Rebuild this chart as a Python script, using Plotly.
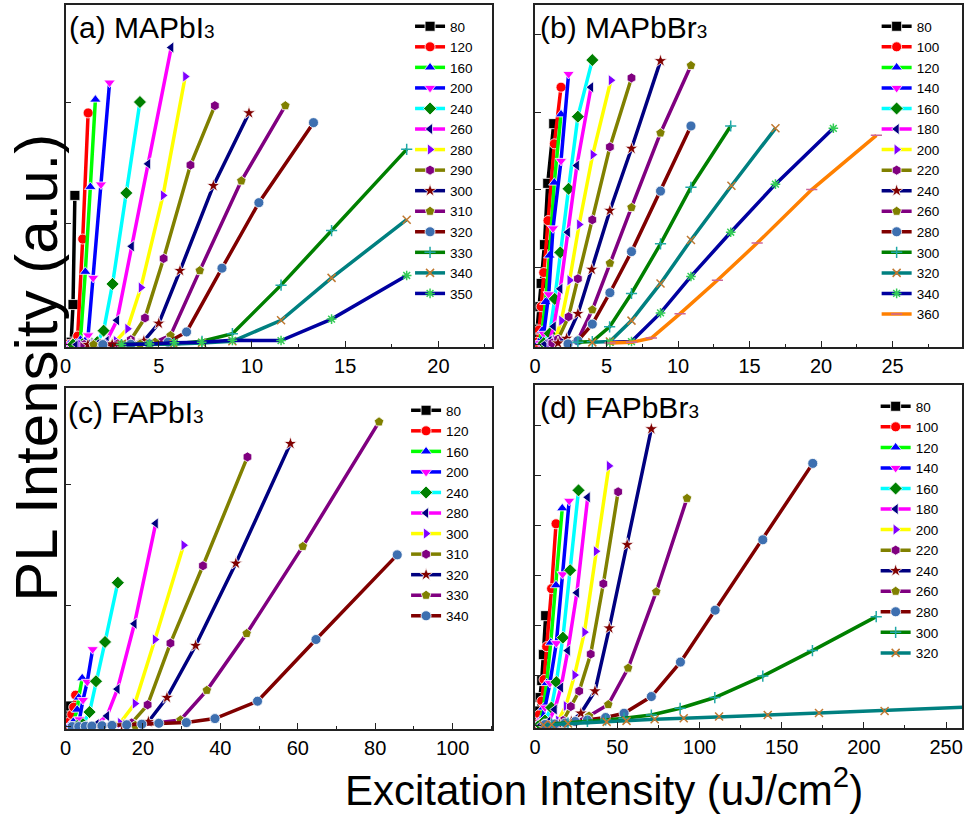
import plotly.graph_objects as go

# ---------------- data ----------------
A_LABELS = [80, 120, 160, 200, 240, 260, 280, 290, 300, 310, 320, 330, 340, 350]
A_X = [
    [0.05, 0.15, 0.3, 0.4, 0.5],
    [0.1, 0.3, 0.5, 0.65, 0.92, 1.21],
    [0.15, 0.35, 0.55, 0.8, 1.06, 1.33, 1.6],
    [0.2, 0.5, 0.9, 1.21, 1.48, 1.9, 2.36],
    [0.4, 0.9, 1.4, 1.7, 2.04, 2.52, 3.26, 3.99],
    [0.6, 1.2, 1.7, 2.2, 2.76, 3.55, 4.43, 5.67],
    [0.8, 1.5, 2.2, 2.7, 3.32, 4.04, 5.23, 6.42],
    [1.0, 2.0, 2.8, 3.5, 4.26, 5.26, 6.7, 8.01],
    [1.2, 2.5, 3.5, 4.2, 5.0, 6.14, 7.93, 9.84],
    [1.5, 3.0, 4.0, 4.8, 5.63, 7.2, 9.43, 11.79],
    [2.0, 3.5, 4.5, 5.5, 6.49, 8.39, 10.37, 13.3],
    [3.0, 4.5, 5.8, 7.32, 8.95, 11.56, 14.27, 18.3],
    [3.0, 4.5, 5.8, 7.32, 8.95, 11.56, 14.27, 18.3],
    [3.0, 4.5, 5.84, 7.3, 8.95, 11.56, 14.27, 18.3],
]
A_Y = [
    [0.0, 0.004, 0.02, 0.33, 1.23],
    [0.0, 0.005, 0.02, 0.07, 0.87, 1.91],
    [0.0, 0.003, 0.01, 0.04, 0.6, 1.3, 2.02],
    [0.0, 0.003, 0.01, 0.076, 0.55, 1.32, 2.16],
    [0.0, 0.002, 0.006, 0.02, 0.115, 0.5, 1.25, 2.0],
    [0.0, 0.002, 0.005, 0.03, 0.2, 0.81, 1.49, 2.45],
    [0.0, 0.002, 0.005, 0.03, 0.13, 0.47, 1.23, 2.21],
    [0.0, 0.002, 0.006, 0.04, 0.22, 0.71, 1.48, 1.97],
    [0.0, 0.002, 0.005, 0.03, 0.175, 0.61, 1.31, 1.91],
    [0.0, 0.002, 0.005, 0.02, 0.075, 0.61, 1.35, 1.97],
    [0.0, 0.002, 0.004, 0.02, 0.104, 0.63, 1.17, 1.83],
    [0.0, 0.002, 0.005, 0.027, 0.09, 0.49, 0.94, 1.61],
    [0.0, 0.002, 0.005, 0.014, 0.027, 0.2, 0.55, 1.03],
    [0.0, 0.004, 0.016, 0.02, 0.035, 0.033, 0.21, 0.57],
]

B_LABELS = [80, 100, 120, 140, 160, 180, 200, 220, 240, 260, 280, 300, 320, 340, 360]
B_X = [
    [0.05, 0.14, 0.32, 0.42, 0.65, 0.88, 1.3],
    [0.1, 0.28, 0.42, 0.6, 0.9, 1.34, 1.81],
    [0.25, 0.49, 0.72, 1.0, 1.34, 1.81],
    [0.35, 0.6, 0.95, 1.25, 1.81, 2.34],
    [0.6, 1.02, 1.37, 1.76, 2.34, 2.99, 4.0],
    [0.7, 1.0, 1.3, 1.76, 2.29, 2.92, 3.91],
    [1.0, 1.4, 1.83, 2.41, 3.08, 4.03, 5.3],
    [1.2, 1.6, 2.34, 2.99, 4.0, 5.23, 6.74],
    [1.6, 2.2, 2.99, 3.96, 5.23, 6.74, 8.77],
    [2.3, 2.99, 4.0, 5.23, 6.74, 8.77, 10.9],
    [2.3, 2.99, 4.0, 5.23, 6.74, 8.77, 10.9],
    [2.99, 4.0, 5.21, 6.74, 8.77, 10.9, 13.68],
    [4.0, 5.23, 6.74, 8.77, 10.9, 13.73, 16.81],
    [5.23, 6.74, 8.77, 10.9, 13.68, 16.81, 20.86],
    [5.23, 6.74, 8.13, 10.14, 12.75, 15.53, 19.35, 23.87],
]
B_Y = [
    [0.02, 0.2, 0.49, 0.79, 1.29, 2.08, 2.85],
    [0.03, 0.19, 0.49, 0.93, 1.6, 2.59, 3.32],
    [0.03, 0.18, 0.55, 1.15, 2.09, 2.97],
    [0.02, 0.14, 0.65, 1.5, 2.37, 3.49],
    [0.02, 0.145, 0.59, 1.19, 2.01, 2.94, 3.67],
    [0.01, 0.05, 0.235, 0.72, 1.45, 2.31, 3.32],
    [0.01, 0.06, 0.31, 0.83, 1.55, 2.45, 3.41],
    [0.02, 0.07, 0.36, 0.85, 1.61, 2.55, 3.44],
    [0.02, 0.08, 0.40, 0.97, 1.73, 2.53, 3.66],
    [0.015, 0.06, 0.45, 1.05, 1.77, 2.73, 3.6],
    [0.01, 0.05, 0.265, 0.67, 1.2, 1.98, 2.82],
    [0.03, 0.04, 0.23, 0.66, 1.3, 2.03, 2.82],
    [0.03, 0.04, 0.31, 0.79, 1.35, 2.05, 2.79],
    [0.03, 0.04, 0.41, 0.88, 1.45, 2.07, 2.79],
    [0.02, 0.03, 0.085, 0.4, 0.83, 1.31, 2.0, 2.7],
]

C_LABELS = [80, 120, 160, 200, 240, 280, 300, 310, 320, 330, 340]
C_X = [
    [0.3, 0.6, 1.0, 1.3],
    [0.5, 1.0, 1.6, 2.1, 2.6],
    [1.0, 2.0, 3.0, 3.4, 4.3],
    [1.5, 2.5, 3.6, 4.5, 5.6, 7.0],
    [3.0, 4.5, 6.2, 7.86, 10.2, 13.5],
    [5.0, 8.0, 10.7, 13.4, 17.8, 23.3],
    [10.0, 14.1, 17.9, 23.1, 30.5],
    [12.0, 17.1, 21.2, 27.1, 35.5, 47.0],
    [15.0, 21.4, 26.2, 33.6, 44.0, 58.1],
    [18.0, 24.0, 29.7, 36.5, 46.8, 61.3, 81.0],
    [1.7, 3.4, 5.1, 6.8, 9.4, 12.0, 15.8, 19.7, 24.1, 31.2, 38.6, 49.6, 64.7, 85.7],
]
C_Y = [
    [0.01, 0.04, 0.1, 0.17],
    [0.01, 0.04, 0.1, 0.16, 0.26],
    [0.01, 0.04, 0.14, 0.24, 0.40],
    [0.005, 0.02, 0.06, 0.22, 0.37, 0.64],
    [0.005, 0.02, 0.12, 0.375, 0.70, 1.19],
    [0.005, 0.02, 0.088, 0.31, 0.85, 1.68],
    [0.01, 0.03, 0.19, 0.72, 1.5],
    [0.01, 0.03, 0.18, 0.69, 1.33, 2.23],
    [0.01, 0.04, 0.24, 0.67, 1.35, 2.34],
    [0.01, 0.03, 0.055, 0.3, 0.77, 1.49, 2.52],
    [0.0, 0.0, 0.002, 0.004, 0.007, 0.01, 0.015, 0.02, 0.027, 0.033, 0.066, 0.21, 0.72, 1.42],
]

D_LABELS = [80, 100, 120, 140, 160, 180, 200, 220, 240, 260, 280, 300, 320]
D_X = [
    [0.5, 1.0, 2.0, 3.0, 4.0, 5.0, 6.4],
    [1.0, 2.6, 4.0, 5.4, 7.0, 10.0, 12.7],
    [1.5, 3.0, 5.0, 7.0, 9.5, 12.7, 16.5],
    [2.0, 4.0, 6.0, 9.0, 12.9, 16.7, 20.7],
    [3.0, 6.0, 9.86, 12.9, 16.9, 21.3, 26.4],
    [4.0, 8.0, 11.9, 15.7, 19.9, 25.4, 32.0],
    [8.0, 14.0, 18.7, 24.0, 30.0, 37.0, 44.9],
    [10.0, 17.0, 21.7, 26.8, 33.8, 41.5, 50.5],
    [15.0, 22.0, 27.8, 36.4, 45.1, 56.0, 70.7],
    [18.0, 25.0, 32.8, 44.5, 56.6, 73.7, 92.4],
    [6.0, 12.0, 18.3, 24.4, 31.8, 42.9, 54.1, 70.7, 88.4, 109.5, 138.5, 168.9],
    [10.0, 20.0, 31.8, 42.9, 54.1, 70.7, 88.2, 109.3, 138.5, 168.7, 207.5],
    [5.0, 10.0, 20.0, 43.5, 55.6, 72.7, 90.4, 111.9, 141.5, 172.7, 212.6, 300.0],
]
D_Y = [
    [0.02, 0.08, 0.29, 0.56, 0.9, 1.42, 2.2],
    [0.03, 0.22, 0.49, 0.92, 1.58, 2.74, 4.04],
    [0.02, 0.1, 0.36, 0.85, 1.66, 2.81, 4.35],
    [0.02, 0.1, 0.36, 0.85, 1.65, 3.03, 4.5],
    [0.02, 0.1, 0.36, 0.87, 1.76, 3.11, 4.71],
    [0.02, 0.08, 0.32, 0.76, 1.5, 2.66, 4.57],
    [0.02, 0.1, 0.39, 1.01, 1.87, 3.49, 5.2],
    [0.02, 0.1, 0.38, 0.69, 1.43, 2.84, 4.68],
    [0.02, 0.08, 0.245, 0.69, 1.95, 3.62, 5.94],
    [0.03, 0.08, 0.19, 0.42, 1.15, 2.68, 4.55],
    [0.02, 0.03, 0.05, 0.08, 0.11, 0.16, 0.245, 0.58, 1.27, 2.31, 3.72, 5.25],
    [0.03, 0.05, 0.08, 0.11, 0.146, 0.21, 0.345, 0.56, 0.99, 1.5, 2.18],
    [0.01, 0.02, 0.04, 0.073, 0.093, 0.126, 0.146, 0.18, 0.21, 0.25, 0.29, 0.42],
]

PANEL_TITLES = ["(a) MAPbI", "(b) MAPbBr", "(c) FAPbI", "(d) FAPbBr"]
X_TITLE = "Excitation Intensity (uJ/cm<sup>2</sup>)"
Y_TITLE = "PL Intensity (a.u.)"

# ---------------- style ----------------
LINE_COLORS = ['#000000', '#FF0000', '#00FF00', '#0000FF', '#00FFFF', '#FF00FF', '#FFFF00',
               '#808000', '#000080', '#800080', '#800000', '#008000', '#008080', '#0000A0', '#FF8000']
MARKER_COLORS = ['#000000', '#FF0000', '#0000FF', '#FF00FF', '#008000', '#000080', '#8000FF',
                 '#800080', '#800000', '#808000', '#3D6FB0', '#20A8A8', '#C07830', '#33CC55', '#CC6699']
SYMBOLS = ['square', 'circle', 'triangle-up', 'triangle-down', 'diamond', 'triangle-left',
           'triangle-right', 'hexagon', 'star', 'pentagon', 'circle', 'cross-thin-open',
           'x-thin-open', 'asterisk-open', 'line-ew-open']

W, H = 965, 814
FONT = "Liberation Sans, Arial, sans-serif"

def px_x(p):
    return p / W

def px_y(p):
    return 1 - p / H

X_DOM = [[60, 490], [533, 963], [60, 490], [533, 963]]
Y_DOM = [[5, 347], [5, 347], [388, 729], [385, 728]]
X_RANGE = [[0, 22.9], [0, 29.86], [0, 110.3], [0, 259.7]]
Y_RANGE = [[-0.02, 2.8], [-0.03, 4.38], [-0.02, 2.8], [-0.05, 6.82]]
X_DTICK = [5, 5, 20, 50]
LEG_POS = [[407, 11], [877, 11], [403, 395], [876, 391]]
TITLE_POS = [[61, 27], [536, 27], [60, 412], [536, 407]]

panels = [(A_LABELS, A_X, A_Y), (B_LABELS, B_X, B_Y), (C_LABELS, C_X, C_Y), (D_LABELS, D_X, D_Y)]

fig = go.Figure()
layout = dict(width=W, height=H, margin=dict(l=0, r=0, t=0, b=0),
              plot_bgcolor='white', paper_bgcolor='white',
              font=dict(family=FONT, color='black'), annotations=[])

for i, (labels, xs, ys) in enumerate(panels):
    suf = '' if i == 0 else str(i + 1)
    for j, lab in enumerate(labels):
        sym = SYMBOLS[j]
        is_open = sym.endswith('-open')
        fig.add_trace(go.Scatter(
            x=xs[j], y=ys[j], mode='lines+markers', name=str(lab),
            xaxis='x' + suf, yaxis='y' + suf, legend='legend' + suf,
            line=dict(color=LINE_COLORS[j], width=3.5),
            marker=dict(symbol=sym, size=8 if is_open else 10, color=MARKER_COLORS[j],
                        line=dict(color=MARKER_COLORS[j] if is_open else 'white',
                                  width=1.5 if is_open else 0.8)),
        ))
    common = dict(showline=True, linecolor='#222222', linewidth=1.5, mirror=True,
                  ticks='inside', ticklen=6, tickwidth=1.2, tickcolor='#222222',
                  showgrid=False, zeroline=False)
    layout['xaxis' + suf] = dict(common, domain=[px_x(X_DOM[i][0]), px_x(X_DOM[i][1])],
                                 range=X_RANGE[i], dtick=X_DTICK[i], tick0=0,
                                 anchor='y' + suf,
                                 tickfont=dict(size=20, family=FONT, color='black'),
                                 minor=dict(ticks='inside', ticklen=3, dtick=X_DTICK[i] / 2,
                                            tickcolor='#222222'))
    layout['yaxis' + suf] = dict(common, domain=[px_y(Y_DOM[i][1]), px_y(Y_DOM[i][0])],
                                 range=Y_RANGE[i], dtick=1, tick0=0, showticklabels=False,
                                 anchor='x' + suf)
    layout['legend' + suf] = dict(x=px_x(LEG_POS[i][0]), y=px_y(LEG_POS[i][1]),
                                  xanchor='left', yanchor='top', bgcolor='rgba(0,0,0,0)',
                                  borderwidth=0, tracegroupgap=0,
                                  font=dict(size=13.5, family=FONT, color='black'))
    layout['annotations'].append(dict(
        text=PANEL_TITLES[i] + "<span style='font-size:19px'>3</span>",
        x=px_x(TITLE_POS[i][0]), y=px_y(TITLE_POS[i][1]), xref='paper', yref='paper',
        xanchor='left', yanchor='middle', showarrow=False,
        font=dict(size=30, family=FONT, color='black')))

layout['annotations'].append(dict(text=X_TITLE, x=px_x(602), y=px_y(787), xref='paper', yref='paper',
                                  xanchor='center', yanchor='middle', showarrow=False,
                                  font=dict(size=42, family=FONT, color='black')))
layout['annotations'].append(dict(text=Y_TITLE, x=px_x(31), y=px_y(368), xref='paper', yref='paper',
                                  xanchor='center', yanchor='middle', showarrow=False, textangle=-90,
                                  font=dict(size=60, family=FONT, color='black')))

fig.update_layout(**layout)
fig.write_html("out.html", config={'displayModeBar': False},
               post_script="document.body.style.margin='0px';")
